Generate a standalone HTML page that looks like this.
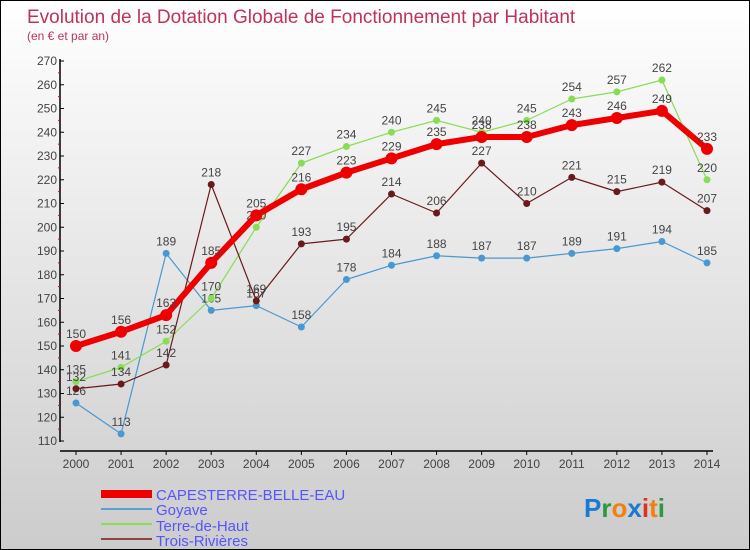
<!DOCTYPE html>
<html><head><meta charset="utf-8"><style>
body{margin:0}
#c{position:relative;width:748px;height:548px;border:1px solid #000;background:linear-gradient(#fff,#ccc);font-family:"Liberation Sans",sans-serif;overflow:hidden}
</style></head><body>
<div id="c">
<svg id="s" width="748" height="548" style="position:absolute;left:0;top:0">
<text x="26" y="22" font-size="19" fill="#c0325a">Evolution de la Dotation Globale de Fonctionnement par Habitant</text>
<text x="26" y="39" font-size="12" fill="#c0325a">(en € et par an)</text>
<g id="ax"></g><g id="ser"></g>
<g>
<rect x="100" y="489" width="51" height="8" fill="#e00"/>
<text x="155" y="499" font-size="15" fill="#55f">CAPESTERRE-BELLE-EAU</text>
<line x1="100" y1="508" x2="151" y2="508" stroke="#5aa0d0" stroke-width="2"/>
<text x="155" y="514" font-size="15" fill="#55f">Goyave</text>
<line x1="100" y1="523" x2="151" y2="523" stroke="#88dd55" stroke-width="2"/>
<text x="155" y="530" font-size="15" fill="#55f">Terre-de-Haut</text>
<line x1="100" y1="538" x2="151" y2="538" stroke="#8b4545" stroke-width="2"/>
<text x="155" y="545" font-size="15" fill="#55f">Trois-Rivières</text>
</g>
<text x="583" y="516" font-size="26" font-weight="bold"><tspan fill="#1a7ad0">P</tspan><tspan fill="#2a9a3a">r</tspan><tspan fill="#f08010">o</tspan><tspan fill="#1a7ad0">x</tspan><tspan fill="#e03020">i</tspan><tspan fill="#f08010">t</tspan><tspan fill="#2a9a3a">i</tspan></text>
</svg>
</div>
<script>
const years=[2000,2001,2002,2003,2004,2005,2006,2007,2008,2009,2010,2011,2012,2013,2014];
const yTicks=[110,120,130,140,150,160,170,180,190,200,210,220,230,240,250,260,270];
const capesterre=[150,156,163,185,205,216,223,229,235,238,238,243,246,249,233];
const goyave=[126,113,189,165,167,158,178,184,188,187,187,189,191,194,185];
const terre=[135,141,152,170,200,227,234,240,245,240,245,254,257,262,220];
const trois=[132,134,142,218,169,193,195,214,206,227,210,221,215,219,207];
const NS="http://www.w3.org/2000/svg";
const X=i=>75+i*(631/14);
const Y=v=>440-(v-110)*(380/160);
function mk(t,a,p){const e=document.createElementNS(NS,t);for(const k in a)e.setAttribute(k,a[k]);p.appendChild(e);return e;}
const ax=document.getElementById('ax');
const yl=mk('line',{x1:59,y1:58,x2:59,y2:441,stroke:'#000','stroke-width':1.5},ax);


const xl=mk('line',{x1:59,y1:450,x2:712,y2:450,stroke:'#000','stroke-width':1.5},ax);


yTicks.forEach(v=>{
  mk('line',{x1:59,y1:Y(v),x2:63,y2:Y(v),stroke:'#000'},ax);
  if(v<270)mk('line',{x1:57,y1:Y(v+5),x2:59,y2:Y(v+5),stroke:'#e00'},ax);
  const t=mk('text',{x:56,y:Y(v)+4,'font-size':12,fill:'#444','text-anchor':'end'},ax);t.textContent=v;
  
  
});
years.forEach((yr,i)=>{
  mk('line',{x1:X(i),y1:450,x2:X(i),y2:454,stroke:'#000'},ax);
  const t=mk('text',{x:X(i),y:467,'font-size':12,fill:'#444','text-anchor':'middle'},ax);t.textContent=yr;
  
  
});
const ser=document.getElementById('ser');
function draw(d,col,w,r,name){
  const g=mk('g',{},ser);
  
  
  mk('polyline',{points:d.map((v,i)=>X(i)+','+Y(v)).join(' '),fill:'none',stroke:col,'stroke-width':w,'stroke-linejoin':'round'},g);
  d.forEach((v,i)=>{
    const c=mk('circle',{cx:X(i),cy:Y(v),r:r,fill:col},g);
    
    
    const t=mk('text',{x:X(i),y:Y(v)-8,'font-size':12,fill:'#444','text-anchor':'middle'},g);t.textContent=v;
  });
}
draw(goyave,'#4a98d0',1.2,3.5,'goyave');
draw(terre,'#88dd55',1.2,3.5,'terre-de-haut');
draw(trois,'#6a1a1a',1.2,3.5,'trois-rivieres');
draw(capesterre,'#ee0000',6,6,'capesterre');
</script>
</body></html>
